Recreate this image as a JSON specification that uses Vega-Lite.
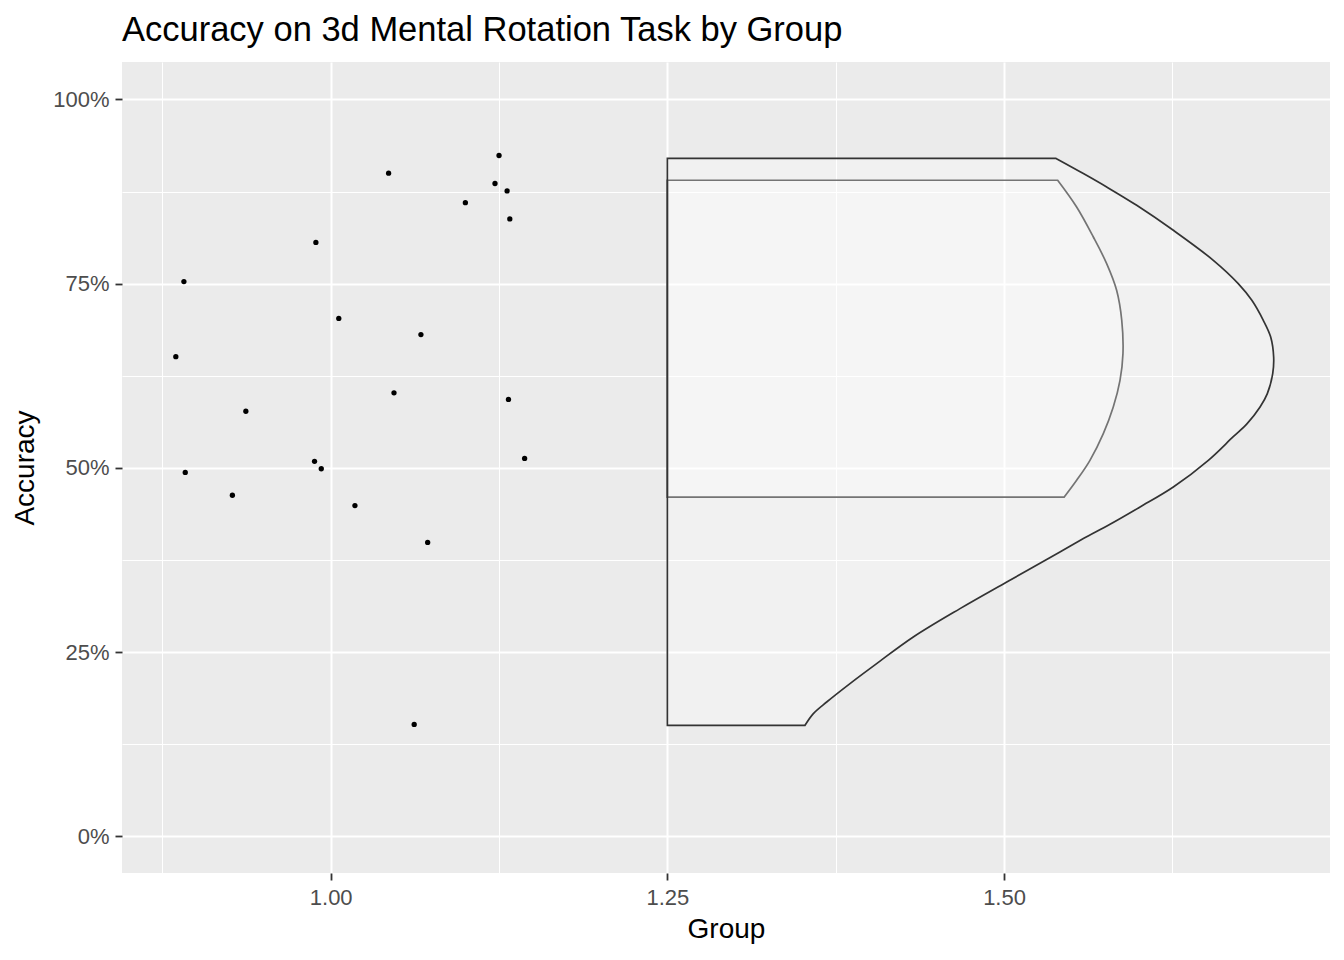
{
  "$schema": "https://vega.github.io/schema/vega-lite/v6.json",
  "width": 1208,
  "height": 811,
  "autosize": {"type": "none"},
  "padding": {"left": 122, "top": 62, "right": 14, "bottom": 87},
  "background": "white",
  "title": {
    "text": "Accuracy on 3d Mental Rotation Task by Group",
    "anchor": "start",
    "frame": "group",
    "font": "Liberation Sans",
    "fontSize": 34.5,
    "fontWeight": "normal",
    "color": "black",
    "baseline": "bottom",
    "offset": 14,
    "dy": 34
  },
  "config": {
    "view": {"fill": "#EBEBEB", "stroke": null},
    "axis": {
      "domain": false,
      "gridColor": "white",
      "tickColor": "#333333",
      "tickSize": 7,
      "tickWidth": 1.8,
      "labelFont": "Liberation Sans",
      "labelFontSize": 22,
      "labelColor": "#4D4D4D",
      "titleFont": "Liberation Sans",
      "titleFontSize": 28,
      "titleFontWeight": "normal",
      "titleColor": "black",
      "labelOverlap": false,
      "labelFlush": false
    }
  },
  "datasets": {
    "points": [
      {"group": 1.125, "accuracy": 0.924},
      {"group": 1.043, "accuracy": 0.900},
      {"group": 1.122, "accuracy": 0.886},
      {"group": 1.131, "accuracy": 0.876},
      {"group": 1.100, "accuracy": 0.860},
      {"group": 1.133, "accuracy": 0.838},
      {"group": 0.989, "accuracy": 0.806},
      {"group": 0.891, "accuracy": 0.753},
      {"group": 1.006, "accuracy": 0.703},
      {"group": 1.067, "accuracy": 0.681},
      {"group": 0.885, "accuracy": 0.651},
      {"group": 1.047, "accuracy": 0.602},
      {"group": 1.132, "accuracy": 0.593},
      {"group": 0.937, "accuracy": 0.577},
      {"group": 1.144, "accuracy": 0.513},
      {"group": 0.988, "accuracy": 0.509},
      {"group": 0.993, "accuracy": 0.499},
      {"group": 0.892, "accuracy": 0.494},
      {"group": 0.927, "accuracy": 0.463},
      {"group": 1.018, "accuracy": 0.449},
      {"group": 1.072, "accuracy": 0.399},
      {"group": 1.062, "accuracy": 0.152}
    ],
    "outer": [
      {"accuracy": 0.1509, "width": 1.3522},
      {"accuracy": 0.1668, "width": 1.3584},
      {"accuracy": 0.1825, "width": 1.3683},
      {"accuracy": 0.2075, "width": 1.3856},
      {"accuracy": 0.2346, "width": 1.4054},
      {"accuracy": 0.2707, "width": 1.4326},
      {"accuracy": 0.3092, "width": 1.4673},
      {"accuracy": 0.3453, "width": 1.5020},
      {"accuracy": 0.3860, "width": 1.5415},
      {"accuracy": 0.4042, "width": 1.5589},
      {"accuracy": 0.4236, "width": 1.5787},
      {"accuracy": 0.4471, "width": 1.6010},
      {"accuracy": 0.4742, "width": 1.6257},
      {"accuracy": 0.5104, "width": 1.6517},
      {"accuracy": 0.5421, "width": 1.6700},
      {"accuracy": 0.5602, "width": 1.6805},
      {"accuracy": 0.5828, "width": 1.6901},
      {"accuracy": 0.6010, "width": 1.6955},
      {"accuracy": 0.6281, "width": 1.6995},
      {"accuracy": 0.6506, "width": 1.7002},
      {"accuracy": 0.6777, "width": 1.6980},
      {"accuracy": 0.7004, "width": 1.6925},
      {"accuracy": 0.7275, "width": 1.6840},
      {"accuracy": 0.7502, "width": 1.6739},
      {"accuracy": 0.7818, "width": 1.6554},
      {"accuracy": 0.8225, "width": 1.6257},
      {"accuracy": 0.8564, "width": 1.5985},
      {"accuracy": 0.8813, "width": 1.5762},
      {"accuracy": 0.8995, "width": 1.5589},
      {"accuracy": 0.9200, "width": 1.5386}
    ],
    "inner": [
      {"accuracy": 0.4606, "width": 1.5447},
      {"accuracy": 0.4833, "width": 1.5539},
      {"accuracy": 0.5104, "width": 1.5638},
      {"accuracy": 0.5467, "width": 1.5737},
      {"accuracy": 0.5828, "width": 1.5811},
      {"accuracy": 0.6190, "width": 1.5861},
      {"accuracy": 0.6552, "width": 1.5883},
      {"accuracy": 0.7004, "width": 1.5874},
      {"accuracy": 0.7411, "width": 1.5836},
      {"accuracy": 0.7773, "width": 1.5762},
      {"accuracy": 0.8134, "width": 1.5663},
      {"accuracy": 0.8541, "width": 1.5539},
      {"accuracy": 0.8904, "width": 1.5398}
    ]
  },
  "layer": [
    {
      "data": {"name": "inner"},
      "mark": {"type": "area", "orient": "horizontal", "interpolate": "catmull-rom", "fill": "white", "fillOpacity": 0.32, "stroke": "#333333", "strokeWidth": 1.7},
      "encoding": {
        "x": {
          "field": "width",
          "type": "quantitative",
          "stack": null,
          "scale": {"domain": [0.84503, 1.74204], "nice": false, "zero": false},
          "axis": {
            "title": "Group",
            "values": [0.875, 1, 1.125, 1.25, 1.375, 1.5, 1.625],
            "labelExpr": "round(datum.value*8)%2==1 ? '' : format(datum.value, '.2f')",
            "gridWidth": {"condition": {"test": "round(datum.value*8)%2==1", "value": 1}, "value": 2},
            "tickOpacity": {"condition": {"test": "round(datum.value*8)%2==1", "value": 0}, "value": 1},
            "labelPadding": 7,
            "titlePadding": 7
          }
        },
        "x2": {"datum": 1.25},
        "y": {
          "field": "accuracy",
          "type": "quantitative",
          "scale": {"domain": [-0.04953, 1.05088], "nice": false, "zero": false},
          "axis": {
            "title": "Accuracy",
            "values": [0, 0.125, 0.25, 0.375, 0.5, 0.625, 0.75, 0.875, 1],
            "labelExpr": "round(datum.value*8)%2==1 ? '' : format(datum.value, '.0%')",
            "gridWidth": {"condition": {"test": "round(datum.value*8)%2==1", "value": 1}, "value": 2},
            "tickOpacity": {"condition": {"test": "round(datum.value*8)%2==1", "value": 0}, "value": 1},
            "labelPadding": 6,
            "titlePadding": 13
          }
        }
      }
    },
    {
      "data": {"name": "outer"},
      "mark": {"type": "area", "orient": "horizontal", "interpolate": "catmull-rom", "fill": "white", "fillOpacity": 0.32, "stroke": "#333333", "strokeWidth": 1.7},
      "encoding": {
        "x": {"field": "width", "type": "quantitative", "stack": null, "scale": {"domain": [0.84503, 1.74204], "nice": false, "zero": false}},
        "x2": {"datum": 1.25},
        "y": {"field": "accuracy", "type": "quantitative", "scale": {"domain": [-0.04953, 1.05088], "nice": false, "zero": false}}
      }
    },
    {
      "data": {"name": "points"},
      "mark": {"type": "circle", "size": 28, "color": "black", "opacity": 1},
      "encoding": {
        "x": {"field": "group", "type": "quantitative", "scale": {"domain": [0.84503, 1.74204], "nice": false, "zero": false}},
        "y": {"field": "accuracy", "type": "quantitative", "scale": {"domain": [-0.04953, 1.05088], "nice": false, "zero": false}}
      }
    }
  ]
}
